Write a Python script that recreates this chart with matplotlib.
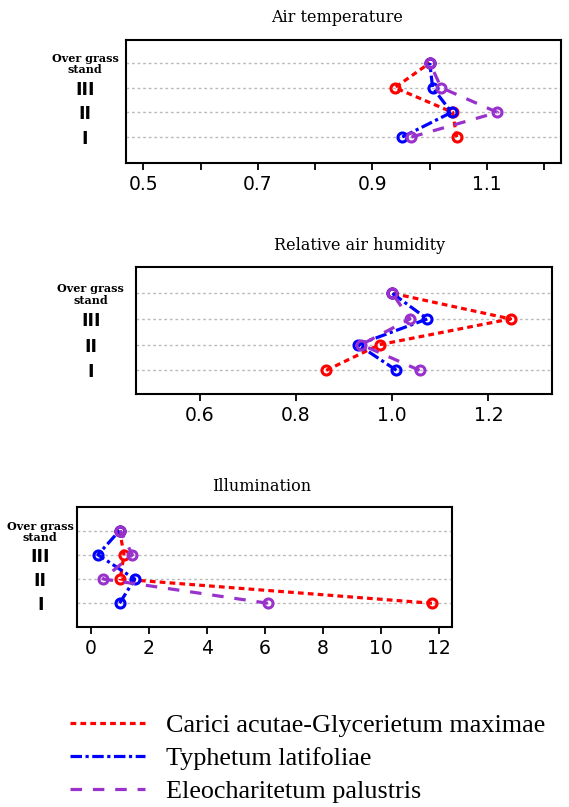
"""
Ratios of microclimate parameters inside three reed communities.
"""

import matplotlib
matplotlib.use("Agg")
import matplotlib.pyplot as plt

# ==========================================
# DATA
# ==========================================
levels = [1, 2, 3, 4]
level_labels = ["I", "II", "III", "Over grass\nstand"]

series_names = [
    "Carici acutae-Glycerietum maximae",
    "Typhetum latifoliae",
    "Eleocharitetum palustris",
]

# values ordered I, II, III, Over grass stand
air_temp_carici = [1.047, 1.040, 0.939, 1.000]
air_temp_typha = [0.952, 1.038, 1.005, 1.000]
air_temp_eleo = [0.968, 1.118, 1.020, 1.000]

humidity_carici = [0.863, 0.974, 1.246, 1.000]
humidity_typha = [1.009, 0.929, 1.073, 1.000]
humidity_eleo = [1.057, 0.936, 1.037, 1.000]

light_carici = [11.77, 1.02, 1.15, 1.00]
light_typha = [1.00, 1.52, 0.25, 1.00]
light_eleo = [6.11, 0.43, 1.44, 1.02]

# ==========================================
# STYLE
# ==========================================
COLORS = ["#FF0000", "#0000FF", "#9932CC"]
STYLES = [(0, (1.8, 1.3)), (0, (3.6, 1.1, 1.0, 1.1)), (0, (3.6, 3.4))]
SERIF = ["Liberation Serif", "DejaVu Serif"]
WIDE_SERIF = ["DejaVu Serif"]
SANS = ["DejaVu Sans"]

W, H = 569, 807
fig = plt.figure(figsize=(W / 100, H / 100), dpi=100)
fig.patch.set_facecolor("white")


def px_axes(left, top, right, bottom):
    return fig.add_axes([left / W, 1 - bottom / H, (right - left) / W, (bottom - top) / H])


def draw_panel(ax, data, xlim, ylim, xticks, xlabels, ypad):
    for y in levels:
        ax.axhline(y, color="#BBBBBB", lw=1.0, ls=(0, (2, 2)), zorder=1)
    for vals, c, ls in zip(data, COLORS, STYLES):
        ax.plot(vals, levels, color=c, ls=ls, lw=2.3, marker="o",
                markersize=6.5, markerfacecolor="none", markeredgewidth=2.2,
                zorder=3)
    ax.set_xlim(*xlim)
    ax.set_ylim(*ylim)
    ax.set_xticks(xticks)
    ax.set_xticklabels(xlabels, family=SANS, fontsize=13.5)
    ax.set_yticks(levels)
    ax.set_yticklabels(level_labels)
    for lab in ax.get_yticklabels():
        lab.set_ha("center")
        if lab.get_text().startswith("Over"):
            lab.set_family(WIDE_SERIF)
            lab.set_fontsize(8)
            lab.set_fontweight("bold")
            lab.set_linespacing(1.05)
        else:
            lab.set_family(SANS)
            lab.set_fontsize(12.5)
            lab.set_fontweight("bold")
    ax.tick_params(axis="y", left=False, pad=ypad)
    ax.tick_params(axis="x", length=5, width=1.3, pad=4)
    for sp in ax.spines.values():
        sp.set_linewidth(1.5)


# ==========================================
# PANELS
# ==========================================
ax1 = px_axes(126, 40, 561, 163)
draw_panel(ax1, [air_temp_carici, air_temp_typha, air_temp_eleo],
           (0.470, 1.229), (-0.05, 4.93),
           [0.5, 0.6, 0.7, 0.8, 0.9, 1.0, 1.1, 1.2],
           ["0.5", "", "0.7", "", "0.9", "", "1.1", ""], 26)
fig.text(337 / W, 1 - 18 / H, "Air temperature", family=WIDE_SERIF,
         fontsize=11.5, ha="center", va="center")

ax2 = px_axes(136, 267, 552, 394)
draw_panel(ax2, [humidity_carici, humidity_typha, humidity_eleo],
           (0.468, 1.332), (0.08, 5.02),
           [0.6, 0.8, 1.0, 1.2], ["0.6", "0.8", "1.0", "1.2"], 29)
fig.text(360 / W, 1 - 246 / H, "Relative air humidity", family=WIDE_SERIF,
         fontsize=11.5, ha="center", va="center")

ax3 = px_axes(77, 507, 452, 627)
draw_panel(ax3, [light_carici, light_typha, light_eleo],
           (-0.47, 12.46), (0.02, 4.97),
           [0, 2, 4, 6, 8, 10, 12], ["0", "2", "4", "6", "8", "10", "12"], 23)
fig.text(262 / W, 1 - 486 / H, "Illumination", family=WIDE_SERIF,
         fontsize=11.5, ha="center", va="center")

# ==========================================
# LEGEND
# ==========================================
handles = [plt.Line2D([], [], color=c, ls=ls, lw=2.3)
           for c, ls in zip(COLORS, STYLES)]
fig.legend(handles, series_names, loc="upper left",
           bbox_to_anchor=(46 / W, 1 - 690 / H), frameon=False,
           prop={"family": SERIF, "size": 18.8}, handlelength=2.9,
           handletextpad=0.78, labelspacing=0.38)

fig.savefig("out.png", dpi=100, facecolor="white")
